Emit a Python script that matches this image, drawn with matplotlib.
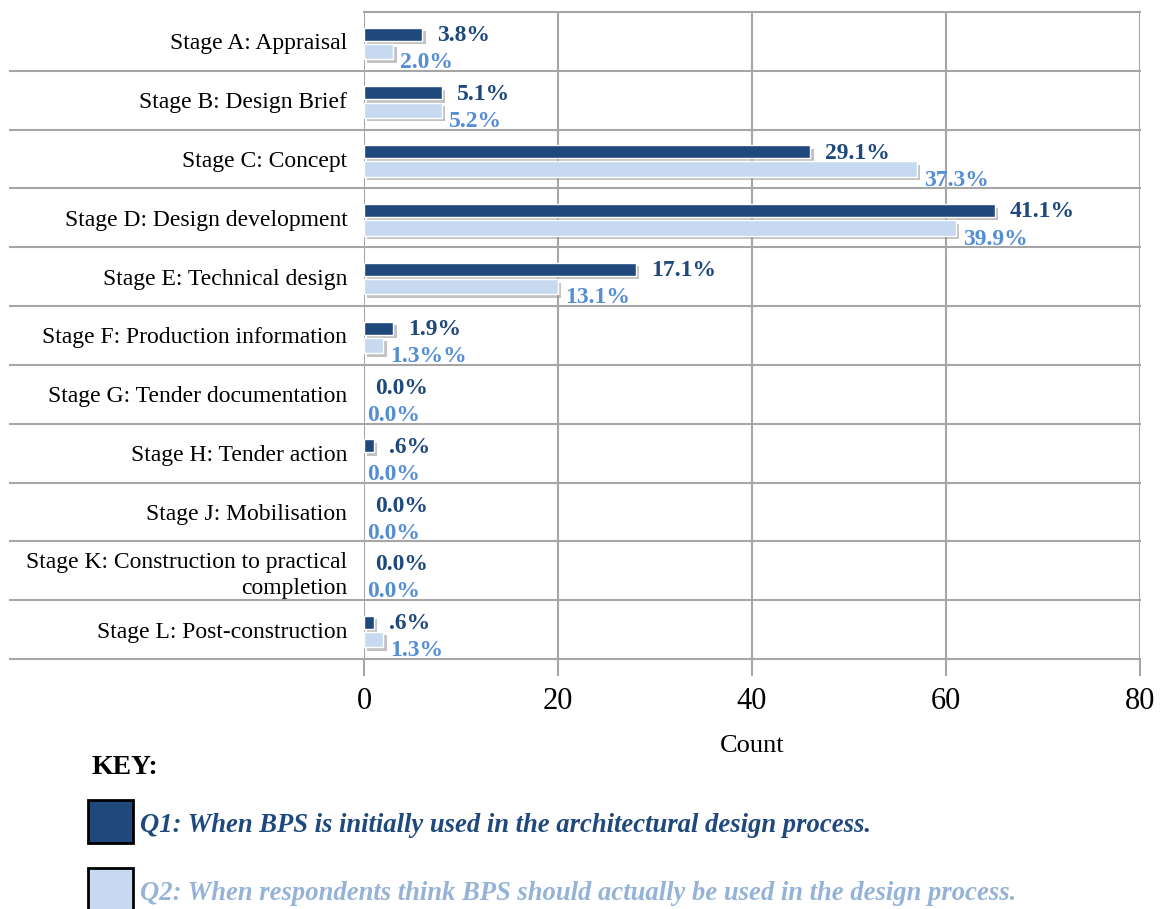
import matplotlib.pyplot as plt
import matplotlib.patheffects as pe
from matplotlib.patches import Rectangle
import numpy as np

plt.rcParams['font.family'] = ['Liberation Serif', 'DejaVu Serif']

stages = ['Stage A: Appraisal', 'Stage B: Design Brief', 'Stage C: Concept',
          'Stage D: Design development', 'Stage E: Technical design',
          'Stage F: Production information', 'Stage G: Tender documentation',
          'Stage H: Tender action', 'Stage J: Mobilisation',
          'Stage K: Construction to practical\ncompletion',
          'Stage L: Post-construction']
q1_count = [6, 8, 46, 65, 28, 3, 0, 1, 0, 0, 1]
q2_count = [3, 8, 57, 61, 20, 2, 0, 0, 0, 0, 2]
q1_pct = ['3.8%', '5.1%', '29.1%', '41.1%', '17.1%', '1.9%', '0.0%', '.6%', '0.0%', '0.0%', '.6%']
q2_pct = ['2.0%', '5.2%', '37.3%', '39.9%', '13.1%', '1.3%%', '0.0%', '0.0%', '0.0%', '0.0%', '1.3%']

dark = '#1F497D'
light = '#C6D9F1'
light_txt = '#558ED5'
key_txt = '#95B3D7'
grid_c = '#A6A6A6'

W, H = 1170, 909
fig = plt.figure(figsize=(11.7, 9.09), dpi=100)
ax = fig.add_axes([364 / W, 1 - 659 / H, 776 / W, 647 / H])

y = np.arange(len(stages))
shadow = [pe.SimplePatchShadow(offset=(2.5, -2.5), shadow_rgbFace='#909090', alpha=0.55), pe.Normal()]
b1 = ax.barh(y - 0.125, q1_count, height=0.22, color=dark, edgecolor='white', linewidth=1, zorder=3)
b2 = ax.barh(y + 0.17, q2_count, height=0.26, color=light, edgecolor='white', linewidth=1, zorder=3)
for b in list(b1) + list(b2):
    if b.get_width() > 0:
        b.set_path_effects(shadow)
    else:
        b.set_linewidth(0)

for i in range(len(stages)):
    ax.annotate(q1_pct[i], (q1_count[i], y[i] - 0.1), xytext=(11 if q1_count[i] else 8, 0),
                textcoords='offset points', ha='left', va='center',
                fontsize=17, fontweight='bold', color=dark, zorder=4)
    ax.annotate(q2_pct[i], (q2_count[i], y[i] + 0.36), xytext=(5 if q2_count[i] else 2, 0),
                textcoords='offset points', ha='left', va='center',
                fontsize=17, fontweight='bold', color=light_txt, zorder=4)

ax.set_xlim(0, 80)
ax.set_ylim(len(stages) - 0.5, -0.5)
ax.set_xticks([0, 20, 40, 60, 80])
ax.tick_params(axis='x', labelsize=22, length=12, width=1.5, color=grid_c, pad=8)
ax.set_yticks(y)
ax.set_yticklabels(stages, fontsize=17, linespacing=1.3)
ax.tick_params(axis='y', length=0, pad=12)
ax.xaxis.grid(True, color=grid_c, linewidth=1.5, zorder=0)
ax.set_axisbelow(True)
for s in ax.spines.values():
    s.set_visible(False)
ax.set_xlabel('Count', fontsize=19, labelpad=14)

# row separators, reaching out under the labels
tr = ax.get_yaxis_transform()
x_left = (10 - 364) / 776
for k in range(len(stages) + 1):
    x0 = 0 if k == 0 else x_left
    ax.plot([x0, 1], [k - 0.5, k - 0.5], transform=tr, color=grid_c, linewidth=1.5,
            clip_on=False, zorder=1)

# key
fig.text(92 / W, 1 - 767 / H, 'KEY:', fontsize=20, fontweight='bold', va='center', ha='left')
fig.patches.append(Rectangle((88 / W, 1 - 843 / H), 45 / W, 43 / H, transform=fig.transFigure,
                             facecolor=dark, edgecolor='black', linewidth=2))
fig.patches.append(Rectangle((88 / W, 1 - 911 / H), 45 / W, 43 / H, transform=fig.transFigure,
                             facecolor=light, edgecolor='black', linewidth=2))
fig.text(140 / W, 1 - 826 / H, 'Q1: When BPS is initially used in the architectural design process.',
         fontsize=19.2, fontweight='bold', style='italic', color=dark, va='center', ha='left')
fig.text(140 / W, 1 - 893 / H, 'Q2: When respondents think BPS should actually be used in the design process.',
         fontsize=19.2, fontweight='bold', style='italic', color=key_txt, va='center', ha='left')

fig.savefig('out.png', dpi=100)
